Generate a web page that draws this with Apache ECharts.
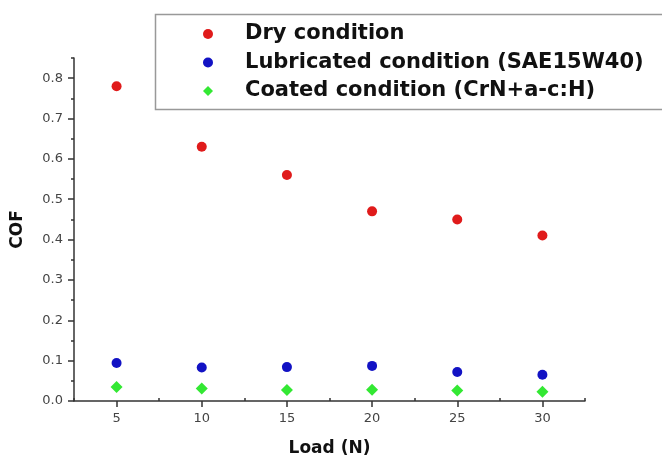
<!DOCTYPE html>
<html>
<head>
<meta charset="utf-8">
<script src="https://cdn.jsdelivr.net/npm/echarts@6/dist/echarts.min.js"></script>
<style>
  html, body { margin: 0; padding: 0; background: #fff; }
  #chart { width: 662px; height: 457px; }
</style>
</head>
<body>
<div id="chart"></div>
<script>
const loads = [5, 10, 15, 20, 25, 30];
const dry = [0.78, 0.63, 0.56, 0.47, 0.45, 0.41];
const lubricated = [0.094, 0.083, 0.084, 0.087, 0.072, 0.065];
const coated = [0.035, 0.031, 0.027, 0.028, 0.026, 0.023];

const xMajor = [5, 10, 15, 20, 25, 30];
const xMinor = [2.5, 7.5, 12.5, 17.5, 22.5, 27.5, 32.5];
const yMajor = [0, 0.1, 0.2, 0.3, 0.4, 0.5, 0.6, 0.7, 0.8];
const yMinor = [0.05, 0.15, 0.25, 0.35, 0.45, 0.55, 0.65, 0.75, 0.85];

const seriesNames = [
  "Dry condition",
  "Lubricated condition (SAE15W40)",
  "Coated condition (CrN+a-c:H)",
];

const font = "DejaVu Sans";
const axisColor = "#333";

const chart = echarts.init(document.getElementById("chart"));

const pairs = (ys) => loads.map((x, i) => [x, ys[i]]);

const baseX = {
  type: "value",
  min: 2.5,
  max: 32.5,
  splitLine: { show: false },
  axisLine: { show: true, onZero: false, lineStyle: { color: axisColor, width: 1.5 } },
};
const baseY = {
  type: "value",
  min: 0,
  max: 0.85,
  splitLine: { show: false },
  axisLine: { show: true, onZero: false, lineStyle: { color: axisColor, width: 1.5 } },
};

const option = {
  animation: false,
  backgroundColor: "#fff",
  textStyle: { fontFamily: font },
  grid: { left: 74, right: 77, top: 58, bottom: 56, outerBoundsMode: "none", containLabel: false },
  graphic: [
    {
      type: "rect",
      left: 153,
      top: 12,
      shape: { width: 530, height: 95 },
      style: { fill: "none", stroke: "#999", lineWidth: 1.5 },
      z: 0,
    },
  ],
  legend: {
    orient: "vertical",
    left: 203,
    top: 23,
    padding: 0,
    itemGap: 6.5,
    itemWidth: 10,
    itemHeight: 10,
    data: seriesNames,
    textStyle: {
      fontFamily: font,
      fontSize: 21,
      fontWeight: "bold",
      color: "#111",
      lineHeight: 22,
      padding: [0, 0, 0, 27],
    },
  },
  xAxis: [
    {
      ...baseX,
      name: "Load (N)",
      nameLocation: "middle",
      nameGap: 39,
      nameTextStyle: { fontFamily: font, fontSize: 17, fontWeight: "bold", color: "#111" },
      axisTick: {
        show: true,
        inside: false,
        length: 6,
        customValues: xMajor,
        lineStyle: { color: axisColor, width: 1.5 },
      },
      axisLabel: {
        customValues: xMajor,
        margin: 11,
        fontFamily: font,
        fontSize: 13,
        color: "#444",
      },
    },
    {
      ...baseX,
      axisLine: { show: false },
      axisTick: {
        show: true,
        length: 3,
        customValues: xMinor,
        lineStyle: { color: axisColor, width: 1.5 },
      },
      axisLabel: { show: false },
    },
  ],
  yAxis: [
    {
      ...baseY,
      name: "COF",
      nameLocation: "middle",
      nameGap: 48,
      nameTextStyle: { fontFamily: font, fontSize: 17, fontWeight: "bold", color: "#111" },
      axisTick: {
        show: true,
        length: 6,
        customValues: yMajor,
        lineStyle: { color: axisColor, width: 1.5 },
      },
      axisLabel: {
        customValues: yMajor,
        margin: 11,
        fontFamily: font,
        fontSize: 13,
        color: "#444",
        formatter: (v) => v.toFixed(1),
      },
    },
    {
      ...baseY,
      position: "left",
      axisLine: { show: false },
      axisTick: {
        show: true,
        length: 3,
        customValues: yMinor,
        lineStyle: { color: axisColor, width: 1.5 },
      },
      axisLabel: { show: false },
    },
  ],
  series: [
    {
      name: seriesNames[0],
      type: "scatter",
      symbol: "circle",
      symbolSize: 10,
      itemStyle: { color: "#e01b1b", opacity: 1 },
      data: pairs(dry),
    },
    {
      name: seriesNames[1],
      type: "scatter",
      symbol: "circle",
      symbolSize: 10,
      itemStyle: { color: "#1212c4", opacity: 1 },
      data: pairs(lubricated),
    },
    {
      name: seriesNames[2],
      type: "scatter",
      symbol: "diamond",
      symbolSize: 12,
      itemStyle: { color: "#33e833", opacity: 1 },
      data: pairs(coated),
    },
  ],
};

chart.setOption(option);
</script>
</body>
</html>
